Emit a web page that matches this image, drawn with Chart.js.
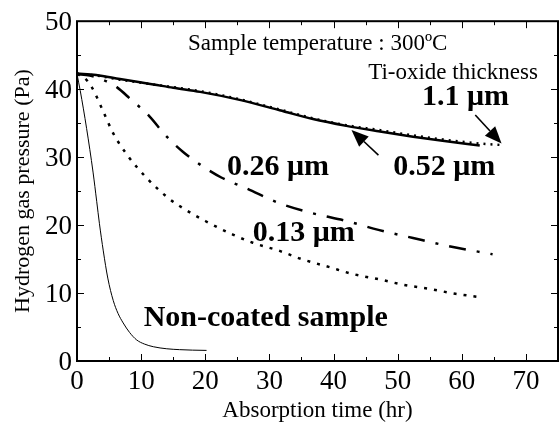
<!DOCTYPE html>
<html>
<head>
<meta charset="utf-8">
<script src="https://cdn.jsdelivr.net/npm/chart.js@4.4.1/dist/chart.umd.min.js"></script>
<style>
  html, body { margin: 0; padding: 0; background: #fff; }
</style>
</head>
<body>
<canvas id="chart" width="560" height="426"></canvas>
<script>
// values, [time (hr), pressure (Pa)]
const nonCoated = [[0,42.2],[0.5,39.8],[1.5,34.2],[2.5,27.8],[3.07,23.5],[3.5,20.2],[4.1,16.2],[4.8,12.2],[5.65,8.9],[6.4,7.0],[7.2,5.6],[8.2,4.2],[9.3,3.1],[10.5,2.5],[11.9,2.1],[14,1.8],[16,1.67],[18,1.6],[20.2,1.56]];
const oxide013 = [[0,42.2],[1,41.8],[2.3,40.3],[4.1,36.7],[5.65,33.5],[8,30.1],[10.9,26.9],[14.2,24.0],[16,22.8],[20,20.6],[24.3,18.6],[27.4,17.4],[31.6,16.2],[35,15.0],[39.4,13.8],[43,12.8],[47.2,12.0],[51,11.2],[55,10.6],[59,9.9],[62.8,9.4]];
const oxide026 = [[0,42.2],[2,42.0],[4,41.4],[6.2,40.3],[8.5,38.4],[11,36.3],[14,33.0],[16.5,30.8],[19.2,28.9],[22.5,27.0],[26.4,25.4],[31.6,23.2],[36.5,21.8],[42,20.6],[47,19.3],[52.4,18.1],[58,16.9],[64.8,15.7]];
const oxide052 = [[0,42.3],[3,42.1],[6.7,41.5],[11.9,40.7],[15,40.2],[19.2,39.6],[25,38.5],[31.6,36.9],[36.8,35.6],[42,34.6],[47,33.8],[52.4,33.0],[57,32.4],[62.8,31.7]];
const oxide11 = [[0,42.3],[3,42.0],[6.7,41.4],[11.9,40.7],[19.2,39.7],[25,38.6],[31.6,37.0],[36.8,35.7],[42,34.7],[47,34.0],[52.4,33.2],[57,32.6],[62.8,32.0],[65.9,31.8]];

const xTicks = [0, 10, 20, 30, 40, 50, 60, 70];
const yTicks = [0, 10, 20, 30, 40, 50];

const serif = "'Liberation Serif', 'Times New Roman', serif";
const toXY = arr => arr.map(p => ({ x: p[0], y: p[1] }));

function line(data, width, dash) {
    return {
        data: toXY(data),
        showLine: true,
        borderColor: '#000',
        borderWidth: width,
        borderDash: dash,
        pointRadius: 0,
        cubicInterpolationMode: 'monotone',
        fill: false
    };
}

// arrow with filled head, from (x1,y1) to tip (x2,y2), pixels
function arrow(ctx, x1, y1, x2, y2) {
    const a = Math.atan2(y2 - y1, x2 - x1);
    const len = 17, half = 7;
    const bx = x2 - len * Math.cos(a), by = y2 - len * Math.sin(a);
    ctx.lineWidth = 1.6;
    ctx.beginPath();
    ctx.moveTo(x1, y1);
    ctx.lineTo(bx, by);
    ctx.stroke();
    ctx.beginPath();
    ctx.moveTo(x2, y2);
    ctx.lineTo(bx + half * Math.sin(a), by - half * Math.cos(a));
    ctx.lineTo(bx - half * Math.sin(a), by + half * Math.cos(a));
    ctx.closePath();
    ctx.fill();
}

// frame, inward ticks on all sides, labels and arrows
const decor = {
    id: 'decor',
    afterDraw(chart) {
        const ctx = chart.ctx;
        const { left, right, top, bottom } = chart.chartArea;
        const xs = chart.scales.x, ys = chart.scales.y;
        ctx.save();
        ctx.strokeStyle = '#000';
        ctx.fillStyle = '#000';

        ctx.lineWidth = 1;
        for (let v = 0; v <= 75; v += 5) {
            const px = Math.round(xs.getPixelForValue(v)) + 0.5;
            const l = v % 10 === 0 ? 7 : 4;
            ctx.beginPath();
            ctx.moveTo(px, bottom); ctx.lineTo(px, bottom - l);
            ctx.moveTo(px, top); ctx.lineTo(px, top + l);
            ctx.stroke();
        }
        for (let v = 0; v <= 50; v += 5) {
            const py = Math.round(ys.getPixelForValue(v)) + 0.5;
            const l = v % 10 === 0 ? 7 : 4;
            ctx.beginPath();
            ctx.moveTo(left, py); ctx.lineTo(left + l, py);
            ctx.moveTo(right, py); ctx.lineTo(right - l, py);
            ctx.stroke();
        }
        ctx.lineWidth = 2;
        ctx.strokeRect(left, top, right - left, bottom - top);

        // text notes, anchored in data units
        const notes = [
            ['Sample temperature : 300\u00BAC', 17.3, 45.7, 'normal 23px'],
            ['Ti-oxide thickness', 45.4, 41.5, 'normal 23px'],
            ['1.1 \u03BCm', 53.8, 37.7, 'bold 30px'],
            ['0.52 \u03BCm', 49.3, 27.4, 'bold 30px'],
            ['0.26 \u03BCm', 23.4, 27.4, 'bold 30px'],
            ['0.13 \u03BCm', 27.4, 17.6, 'bold 30px'],
            ['Non-coated sample', 10.4, 5.2, 'bold 30px']
        ];
        ctx.textAlign = 'left';
        ctx.textBaseline = 'alphabetic';
        notes.forEach(n => {
            ctx.font = n[3] + ' ' + serif;
            ctx.fillText(n[0], xs.getPixelForValue(n[1]), ys.getPixelForValue(n[2]));
        });

        arrow(ctx, xs.getPixelForValue(62.1), ys.getPixelForValue(36.2),
                   xs.getPixelForValue(66.2), ys.getPixelForValue(32.0));
        arrow(ctx, xs.getPixelForValue(47.0), ys.getPixelForValue(30.3),
                   xs.getPixelForValue(42.8), ys.getPixelForValue(34.0));
        ctx.restore();
    }
};

new Chart(document.getElementById('chart'), {
    type: 'scatter',
    data: {
        datasets: [
            line(nonCoated, 1, []),
            line(oxide013, 2.5, [3, 7]),
            line(oxide026, 2.5, [17, 11, 3, 11]),
            line(oxide052, 2.5, []),
            line(oxide11, 2.5, [2, 5])
        ]
    },
    options: {
        responsive: false,
        animation: false,
        layout: { padding: { top: 19, right: 2, bottom: 0, left: 0 } },
        plugins: { legend: { display: false }, tooltip: { enabled: false } },
        scales: {
            x: {
                type: 'linear', min: 0, max: 75,
                afterBuildTicks: s => { s.ticks = xTicks.map(v => ({ value: v })); },
                afterFit: s => { s.height = 65; },
                grid: { display: false, drawTicks: false },
                border: { display: false },
                ticks: { color: '#000', padding: 5, font: { family: serif, size: 27 } },
                title: { display: true, text: 'Absorption time (hr)', color: '#000',
                         font: { family: serif, size: 23 }, padding: { top: 0, bottom: 1 } }
            },
            y: {
                type: 'linear', min: 0, max: 50,
                afterBuildTicks: s => { s.ticks = yTicks.map(v => ({ value: v })); },
                afterFit: s => { s.width = 77; },
                grid: { display: false, drawTicks: false },
                border: { display: false },
                ticks: { color: '#000', padding: 5, labelOffset: 2, font: { family: serif, size: 27 } },
                title: { display: true, text: 'Hydrogen gas pressure (Pa)', color: '#000',
                         font: { family: serif, size: 22 }, padding: { top: 10, bottom: 0 } }
            }
        }
    },
    plugins: [decor]
});
</script>
</body>
</html>
